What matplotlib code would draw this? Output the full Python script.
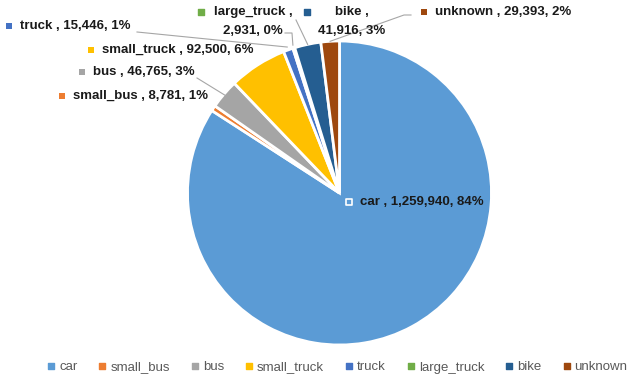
import matplotlib.pyplot as plt
import numpy as np

# data
categories = ['car', 'small_bus', 'bus', 'small_truck', 'truck', 'large_truck', 'bike', 'unknown']
counts = [1259940, 8781, 46765, 92500, 15446, 2931, 41916, 29393]
colors = ['#5B9BD5', '#ED7D31', '#A5A5A5', '#FFC000', '#4472C4', '#70AD47', '#255E91', '#9E480E']

W, H = 637, 387
fig = plt.figure(figsize=(W / 100, H / 100), dpi=100)
ax = fig.add_axes([0, 0, 1, 1])

# pie centre / radius in pixel coords (y measured from top of image)
cx, cy, R = 339.5, 193, 152
center = (cx, H - cy)

wedges, _ = ax.pie(counts, colors=colors, startangle=90, counterclock=False,
                   center=center, radius=R, frame=True,
                   wedgeprops=dict(edgecolor='white', linewidth=2))
ax.set_xlim(0, W)
ax.set_ylim(0, H)
ax.set_aspect('equal')
ax.axis('off')

total = sum(counts)


def pct(val):
    return round(100 * val / total)


def edge_point(i, r=1.0):
    w = wedges[i]
    a = np.deg2rad((w.theta1 + w.theta2) / 2)
    return center[0] + R * r * np.cos(a), center[1] + R * r * np.sin(a)


def px(x, y):
    return x, H - y


lab_font = dict(family='Liberation Sans', weight='bold', size=9.5, color='#1a1a1a')
line_kw = dict(color='#a6a6a6', lw=0.8)

# single-line labels: (square x, y) in pixels
single = {0: (349, 202), 1: (62, 96), 2: (82, 72), 3: (91, 50), 4: (9, 26), 7: (424, 12)}
for i, (sx, sy) in single.items():
    ec = 'white' if i == 0 else 'none'
    ax.scatter(*px(sx, sy), marker='s', s=22 if i == 0 else 16, color=colors[i],
               edgecolors=ec, linewidths=1.2, zorder=5)
    ax.text(*px(sx + 11, sy), f'{categories[i]} , {counts[i]:,}, {pct(counts[i])}%',
            va='center', ha='left', **lab_font, zorder=5)

# two-line labels
two = {5: (201, 12, 253), 6: (307, 12, 352)}
for i, (sx, sy, tx) in two.items():
    ax.scatter(*px(sx, sy), marker='s', s=16, color=colors[i], zorder=5)
    ax.text(*px(tx, sy), f'{categories[i]} ,', va='center', ha='center', **lab_font, zorder=5)
    ax.text(*px(tx, sy + 19), f'{counts[i]:,}, {pct(counts[i])}%', va='center', ha='center',
            **lab_font, zorder=5)


# leader lines
def leader(pts, i, r=1.0):
    xs = [px(*p)[0] for p in pts]
    ys = [px(*p)[1] for p in pts]
    ex, ey = edge_point(i, r)
    ax.plot(xs + [ex], ys + [ey], **line_kw, zorder=4)


leader([(197, 78)], 2, 0.98)
leader([(137, 32)], 4, 1.02)
leader([(285, 33), (292, 33)], 5, 1.02)
leader([(296, 20)], 6, 1.0)
leader([(411, 15), (404, 15)], 7, 1.0)

# legend drawn by hand so all labels share one baseline
fig.canvas.draw()
renderer = fig.canvas.get_renderer()
leg_y = 366
x = 51
for name, c in zip(categories, colors):
    ax.scatter(*px(x, leg_y), marker='s', s=18, color=c, zorder=5)
    t = ax.text(*px(x + 8, leg_y + 4.5), name, va='baseline', ha='left',
                family='Liberation Sans', size=9.5, color='#595959')
    bb = t.get_window_extent(renderer)
    x = x + 8 + bb.width + 25

plt.savefig('out.png', dpi=100)
